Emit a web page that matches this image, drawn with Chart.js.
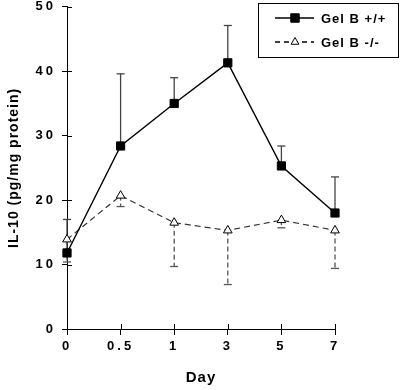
<!DOCTYPE html>
<html>
<head>
<meta charset="utf-8">
<script src="https://cdn.jsdelivr.net/npm/chart.js@4.4.1/dist/chart.umd.min.js"></script>
<style>
  html, body { margin: 0; padding: 0; background: #fff; }
  #wrap { width: 400px; height: 390px; }
</style>
</head>
<body>
<div id="wrap"><canvas id="il10-chart" width="400" height="390"></canvas></div>
<script>
// --- data ---
const days = ['0', '0.5', '1', '3', '5', '7'];
const wtLabel = 'Gel B +/+';
const wtMean = [11.8, 28.4, 35.0, 41.3, 25.3, 18.0];
const wtUpper = [17.0, 39.6, 39.0, 47.1, 28.4, 23.6];
const koLabel = 'Gel B -/-';
const koMean = [13.9, 20.7, 16.5, 15.3, 16.9, 15.3];
const koLower = [10.4, 19.0, 9.7, 6.9, 15.7, 9.4];
const yTicks = [0, 10, 20, 30, 40, 50];
const xTitle = 'Day';
const yTitle = 'IL-10 (pg/mg protein)';

const FONT = "'Liberation Sans', Arial, sans-serif";

// error bars: +/+ upward, -/- downward
const errorBars = {
    id: 'errorBars',
    beforeDatasetsDraw(chart) {
        const ctx = chart.ctx;
        const y = chart.scales.y;
        const ends = [wtUpper, koLower];
        chart.data.datasets.forEach((ds, i) => {
            const meta = chart.getDatasetMeta(i);
            ctx.save();
            ctx.strokeStyle = i === 0 ? '#444' : '#555';
            ctx.lineWidth = 1.3;
            ctx.setLineDash(i === 0 ? [] : [5, 3]);
            meta.data.forEach((pt, j) => {
                const yEnd = y.getPixelForValue(ends[i][j]);
                ctx.beginPath();
                ctx.moveTo(pt.x, pt.y);
                ctx.lineTo(pt.x, yEnd);
                ctx.stroke();
                ctx.save();
                ctx.setLineDash([]);
                ctx.beginPath();
                ctx.moveTo(pt.x - 4, yEnd);
                ctx.lineTo(pt.x + 4, yEnd);
                ctx.stroke();
                ctx.restore();
            });
            ctx.restore();
        });
    }
};

// tick marks that cross the axis lines, titles, boxed legend
const decorations = {
    id: 'decorations',
    beforeDraw(chart) {
        chart.ctx.letterSpacing = '3px';
    },
    afterDraw(chart) {
        const ctx = chart.ctx;
        const xs = chart.scales.x, ys = chart.scales.y;
        const area = chart.chartArea;
        ctx.save();
        ctx.strokeStyle = '#000';
        ctx.lineWidth = 1;
        xs.ticks.forEach((t, i) => {
            const px = Math.round(xs.getPixelForTick(i)) + 0.5;
            ctx.beginPath();
            ctx.moveTo(px, area.bottom);
            ctx.lineTo(px, area.bottom - 5);
            ctx.stroke();
        });
        ys.ticks.forEach((t, i) => {
            const py = Math.round(ys.getPixelForTick(i)) + 0.5;
            ctx.beginPath();
            ctx.moveTo(area.left, py);
            ctx.lineTo(area.left + 5, py);
            ctx.stroke();
        });

        // axis titles
        ctx.fillStyle = '#000';
        ctx.letterSpacing = '1px';
        ctx.font = 'bold 15px ' + FONT;
        ctx.textAlign = 'center';
        ctx.textBaseline = 'middle';
        ctx.fillText(xTitle, (area.left + area.right) / 2, 378);
        ctx.save();
        ctx.font = 'bold 14px ' + FONT;
        ctx.translate(14, (area.top + area.bottom) / 2);
        ctx.rotate(-Math.PI / 2);
        ctx.fillText(yTitle, 0, 0);
        ctx.restore();

        // legend
        ctx.strokeRect(258.5, 3.5, 140, 54);
        const rows = [
            { label: wtLabel, y: 18, dash: [], style: 'rect', fill: '#000' },
            { label: koLabel, y: 42, dash: [5, 4], style: 'triangle', fill: '#fff' }
        ];
        rows.forEach(r => {
            ctx.save();
            ctx.setLineDash(r.dash);
            ctx.lineWidth = 1.3;
            ctx.beginPath();
            ctx.moveTo(275, r.y);
            ctx.lineTo(314, r.y);
            ctx.stroke();
            ctx.restore();
            ctx.save();
            ctx.fillStyle = r.fill;
            ctx.lineWidth = 1;
            Chart.helpers.drawPoint(ctx, { pointStyle: r.style, radius: r.style === 'rect' ? 6 : 4.5, borderWidth: 1 }, 295, r.y);
            ctx.restore();
            ctx.textAlign = 'left';
            ctx.font = 'bold 13px ' + FONT;
            ctx.fillText(r.label, 321, r.y + 1);
        });
        ctx.restore();
    }
};

new Chart(document.getElementById('il10-chart'), {
    type: 'line',
    data: {
        labels: days,
        datasets: [{
            label: wtLabel,
            data: wtMean,
            borderColor: '#000',
            borderWidth: 1.4,
            pointStyle: 'rect',
            pointRadius: 5.8,
            pointBackgroundColor: '#000',
            pointBorderColor: '#000',
            pointBorderWidth: 1,
            tension: 0,
            order: 1
        }, {
            label: koLabel,
            data: koMean,
            borderColor: '#333',
            borderWidth: 1.2,
            borderDash: [6, 4],
            pointStyle: 'triangle',
            pointRadius: 5,
            pointBackgroundColor: '#fff',
            pointBorderColor: '#000',
            pointBorderWidth: 1,
            tension: 0,
            order: 2
        }]
    },
    options: {
        responsive: false,
        animation: false,
        layout: { padding: { top: 0, right: 65, left: 0, bottom: 0 } },
        plugins: {
            legend: { display: false },
            tooltip: { enabled: false }
        },
        scales: {
            x: {
                type: 'category',
                offset: false,
                grid: { drawOnChartArea: false, color: '#000', tickLength: 6, offset: false },
                border: { color: '#000', width: 1 },
                ticks: { color: '#000', font: { family: FONT, size: 13, weight: 'bold' }, padding: 4, maxRotation: 0 },
                afterFit(scale) { scale.height = 61; }
            },
            y: {
                min: 0,
                max: 50,
                afterBuildTicks(scale) { scale.ticks = yTicks.map(v => ({ value: v })); },
                grid: { drawOnChartArea: false, color: '#000', tickLength: 5 },
                border: { color: '#000', width: 1 },
                ticks: { color: '#000', font: { family: FONT, size: 13, weight: 'bold' }, padding: 6 },
                afterFit(scale) {
                    scale.width = 67;
                    scale.paddingTop = 6;
                    scale.paddingBottom = 0;
                }
            }
        }
    },
    plugins: [errorBars, decorations]
});
</script>
</body>
</html>
